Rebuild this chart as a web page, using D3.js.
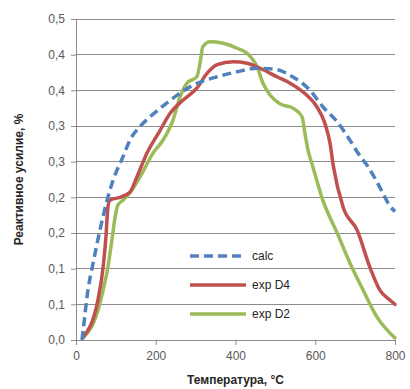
<!DOCTYPE html>
<html><head><meta charset="utf-8">
<script src="https://cdn.jsdelivr.net/npm/d3@7"></script>
<style>body{margin:0;background:#fff}svg{display:block}</style>
</head><body>
<svg id="c" width="410" height="389"></svg>
<script>
const xTicks = [0, 200, 400, 600, 800];
const yTicks = [0, 0.05, 0.1, 0.15, 0.2, 0.25, 0.3, 0.35, 0.4, 0.45];
const yTickLabels = ["0,0","0,1","0,1","0,2","0,2","0,3","0,3","0,4","0,4","0,5"];
const seriesNames = ["calc", "exp D4", "exp D2"];
const calcT = [15,18,30,43,60,78,93,118,135,160,186,218,253,293,329,354,404,454,504,537,587,619,655,687,712,730,762,787,800];
const calcV = [0,0.014,0.070,0.108,0.154,0.196,0.224,0.257,0.280,0.299,0.313,0.328,0.343,0.357,0.365,0.369,0.376,0.381,0.379,0.371,0.350,0.327,0.306,0.280,0.258,0.245,0.214,0.188,0.180];
const d4T = [18,55,68,75,80,85,110,135,153,178,211,236,268,303,329,354,394,429,461,504,537,579,604,624,637,645,670,705,737,762,787,800];
const d4V = [0.004,0.056,0.102,0.144,0.186,0.196,0.200,0.207,0.229,0.262,0.294,0.318,0.336,0.353,0.374,0.386,0.390,0.388,0.381,0.369,0.360,0.343,0.327,0.304,0.276,0.245,0.186,0.154,0.102,0.070,0.056,0.050];
const d2T = [18,53,68,80,90,98,105,118,140,166,193,218,243,261,278,303,311,318,336,369,404,429,454,469,487,512,544,567,574,582,594,619,655,687,720,755,787,800];
const d2V = [0.003,0.038,0.070,0.102,0.140,0.172,0.189,0.196,0.210,0.234,0.262,0.280,0.308,0.341,0.360,0.369,0.388,0.411,0.418,0.416,0.409,0.402,0.383,0.360,0.343,0.331,0.325,0.313,0.290,0.266,0.243,0.196,0.150,0.108,0.070,0.032,0.010,0.003];
const colors = ["#4f81bd", "#c0504d", "#9bbb59"];

const svg = d3.select("#c");
const L = 76, R = 395, T = 19, B = 340;
const x = d3.scaleLinear().domain([0, 800]).range([L, R]);
const y = d3.scaleLinear().domain([0, 0.45]).range([B, T]);
const font = "'Liberation Sans', Arial, sans-serif";

// gridlines
svg.append("g").selectAll("line").data(yTicks.slice(1)).join("line")
  .attr("x1", L).attr("x2", R).attr("y1", d => y(d)).attr("y2", d => y(d))
  .attr("stroke", "#8c8c8c").attr("stroke-width", 1).attr("shape-rendering", "crispEdges");

// axes
const yAxis = d3.axisLeft(y).tickValues(yTicks).tickFormat((d, i) => yTickLabels[i]).tickSize(5).tickPadding(6);
const gy = svg.append("g").attr("transform", `translate(${L},0)`).call(yAxis);
const xAxis = d3.axisBottom(x).tickValues(xTicks).tickSize(5).tickPadding(6).tickFormat(d3.format("d"));
const gx = svg.append("g").attr("transform", `translate(0,${B})`).call(xAxis);
[gx, gy].forEach(g => {
  g.select(".domain").attr("stroke", "#8c8c8c");
  g.selectAll(".tick line").attr("stroke", "#8c8c8c");
  g.selectAll("text").attr("fill", "#595959").style("font-family", font).style("font-size", "12px");
});

// lines
const line = d3.line().x(d => x(d[0])).y(d => y(d[1])).curve(d3.curveMonotoneX);
const data = [d3.zip(calcT, calcV), d3.zip(d4T, d4V), d3.zip(d2T, d2V)];
const order = [2, 1, 0];
order.forEach(i => {
  svg.append("path").datum(data[i]).attr("d", line).attr("fill", "none")
    .attr("stroke", colors[i]).attr("stroke-width", 3.5)
    .attr("stroke-linecap", i === 0 ? "butt" : "round")
    .attr("stroke-linejoin", "round")
    .attr("stroke-dasharray", i === 0 ? "9,5" : null);
});

// legend
const lg = svg.append("g");
seriesNames.forEach((n, i) => {
  const ly = 256 + i * 29;
  lg.append("line").attr("x1", 190).attr("x2", 246).attr("y1", ly).attr("y2", ly)
    .attr("stroke", colors[i]).attr("stroke-width", 3.5)
    .attr("stroke-dasharray", i === 0 ? "9,5" : null);
  lg.append("text").attr("x", 252).attr("y", ly + 4).text(n)
    .attr("fill", "#262626").style("font-family", font).style("font-size", "12px");
});

// axis titles
svg.append("text").attr("x", (L + R) / 2).attr("y", 384).attr("text-anchor", "middle")
  .text("Температура, °C").attr("fill", "#262626")
  .style("font-family", font).style("font-size", "12px").style("font-weight", "bold");
svg.append("text").attr("transform", `translate(23,${(T + B) / 2}) rotate(-90)`).attr("text-anchor", "middle")
  .text("Реактивное усилие, %").attr("fill", "#262626")
  .style("font-family", font).style("font-size", "12px").style("font-weight", "bold");
</script>
</body></html>
